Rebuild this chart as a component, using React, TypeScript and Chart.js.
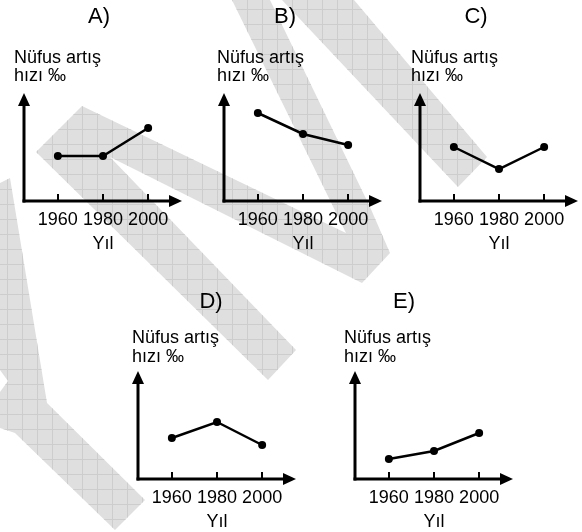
import React, { useEffect, useRef } from "react";
import { Chart, registerables } from "chart.js";

Chart.register(...registerables);

// ---- data ----
const YEARS = [1960, 1980, 2000];
const TICK_LABELS = ["1960", "1980", "2000"];
const PANEL_LABELS = ["A)", "B)", "C)", "D)", "E)"];
const SERIES_A = [45, 45, 73];
const SERIES_B = [88, 67, 56];
const SERIES_C = [54, 32, 54];
const SERIES_D = [41, 57, 34];
const SERIES_E = [20, 28, 46];
const Y_TITLE_LINES = ["Nüfus artış", "hızı ‰"];
const X_TITLE = "Yıl";

// ---- scale ranges ----
const X_MIN = 1945;
const X_MAX = 2015;
const Y_MIN = 0;
const Y_MAX = 108;

// ---- layout (page pixel positions) ----
const W = 582;
const H = 532;
const AXIS_W = 158;
const AXIS_H = 108;
const FONT = '"Liberation Sans", Arial, sans-serif';

const PANELS = [
  { label: PANEL_LABELS[0], data: SERIES_A, x0: 24, y0: 201, titleX: 99, titleY: 23, textX: 14, l1: 63, l2: 81 },
  { label: PANEL_LABELS[1], data: SERIES_B, x0: 224, y0: 201, titleX: 285, titleY: 23, textX: 217, l1: 63, l2: 81 },
  { label: PANEL_LABELS[2], data: SERIES_C, x0: 420, y0: 201, titleX: 476, titleY: 23, textX: 411, l1: 63, l2: 81 },
  { label: PANEL_LABELS[3], data: SERIES_D, x0: 138, y0: 479, titleX: 211, titleY: 308, textX: 132, l1: 343, l2: 362 },
  { label: PANEL_LABELS[4], data: SERIES_E, x0: 355, y0: 479, titleX: 404, titleY: 308, textX: 344, l1: 343, l2: 362 },
];

// ---- background watermark shapes (decoration) ----
const WATERMARK = [
  [[82, 106], [346, 233], [232, 0], [270, 0], [370, 207], [390, 253], [362, 283], [110, 157], [296, 350], [268, 380], [36, 152]],
  [[282, 0], [354, 0], [487, 157], [458, 187]],
  [[0, 183], [10, 178], [47, 403], [145, 500], [115, 530], [15, 433], [0, 428], [0, 392], [8, 381], [0, 370]],
];

const watermarkPlugin = {
  id: "watermark",
  beforeDraw(chart: any) {
    const ctx = chart.ctx;
    ctx.save();
    ctx.fillStyle = "#ffffff";
    ctx.fillRect(0, 0, W, H);
    ctx.beginPath();
    for (const poly of WATERMARK) {
      poly.forEach(([x, y], i) => (i === 0 ? ctx.moveTo(x, y) : ctx.lineTo(x, y)));
      ctx.closePath();
    }
    ctx.fillStyle = "#dfdfdf";
    ctx.fill();
    ctx.clip();
    ctx.strokeStyle = "#cdcdcd";
    ctx.lineWidth = 1;
    ctx.beginPath();
    for (let x = 7; x < W; x += 15) {
      ctx.moveTo(x + 0.5, 0);
      ctx.lineTo(x + 0.5, H);
    }
    for (let y = 9; y < H; y += 15) {
      ctx.moveTo(0, y + 0.5);
      ctx.lineTo(W, y + 0.5);
    }
    ctx.stroke();
    ctx.restore();
  },
};

const axesPlugin = {
  id: "axesDecor",
  beforeDatasetsDraw(chart: any) {
    const ctx = chart.ctx;
    const a = chart.chartArea;
    const xs = chart.scales.x;
    ctx.save();
    ctx.strokeStyle = "#000";
    ctx.fillStyle = "#000";
    ctx.lineWidth = 3;
    ctx.lineCap = "butt";
    // y axis
    ctx.beginPath();
    ctx.moveTo(a.left, a.bottom + 1.5);
    ctx.lineTo(a.left, a.top + 12);
    ctx.stroke();
    ctx.beginPath();
    ctx.moveTo(a.left, a.top);
    ctx.lineTo(a.left - 6, a.top + 13);
    ctx.lineTo(a.left + 6, a.top + 13);
    ctx.closePath();
    ctx.fill();
    // x axis
    ctx.beginPath();
    ctx.moveTo(a.left - 1.5, a.bottom);
    ctx.lineTo(a.right - 12, a.bottom);
    ctx.stroke();
    ctx.beginPath();
    ctx.moveTo(a.right, a.bottom);
    ctx.lineTo(a.right - 13, a.bottom - 6);
    ctx.lineTo(a.right - 13, a.bottom + 6);
    ctx.closePath();
    ctx.fill();
    // tick marks
    ctx.lineWidth = 2;
    for (const yr of YEARS) {
      const px = Math.round(xs.getPixelForValue(yr));
      ctx.beginPath();
      ctx.moveTo(px, a.bottom);
      ctx.lineTo(px, a.bottom - 7);
      ctx.stroke();
    }
    ctx.restore();
  },
  afterDraw(chart: any) {
    const ctx = chart.ctx;
    const a = chart.chartArea;
    const xs = chart.scales.x;
    const p = chart.options.plugins.axesDecor;
    ctx.save();
    ctx.fillStyle = "#000";
    ctx.textBaseline = "alphabetic";
    // tick labels
    ctx.font = `18px ${FONT}`;
    ctx.textAlign = "center";
    YEARS.forEach((yr, i) => {
      ctx.fillText(TICK_LABELS[i], xs.getPixelForValue(yr), a.bottom + 24);
    });
    // x title
    ctx.fillText(X_TITLE, xs.getPixelForValue(YEARS[1]), a.bottom + 48);
    // y title
    ctx.textAlign = "left";
    ctx.fillText(Y_TITLE_LINES[0], p.textX, p.l1);
    ctx.fillText(Y_TITLE_LINES[1], p.textX, p.l2);
    // panel label
    ctx.font = `22px ${FONT}`;
    ctx.textAlign = "center";
    ctx.fillText(p.label, p.titleX, p.titleY);
    ctx.restore();
  },
};

function Panel({ cfg }: { cfg: any }) {
  const ref = useRef<HTMLCanvasElement>(null);
  useEffect(() => {
    if (!ref.current) return;
    const chart = new Chart(ref.current, {
      type: "line",
      data: {
        datasets: [
          {
            data: YEARS.map((yr, i) => ({ x: yr, y: cfg.data[i] })),
            borderColor: "#000",
            borderWidth: 2.5,
            pointRadius: 4,
            pointBackgroundColor: "#000",
            pointBorderColor: "#000",
            pointBorderWidth: 0,
            tension: 0,
            clip: false,
          } as any,
        ],
      },
      options: {
        animation: false,
        responsive: false,
        events: [],
        layout: {
          padding: {
            left: cfg.x0,
            right: W - cfg.x0 - AXIS_W,
            top: cfg.y0 - AXIS_H,
            bottom: H - cfg.y0,
          },
        },
        scales: {
          x: { type: "linear", min: X_MIN, max: X_MAX, display: false },
          y: { type: "linear", min: Y_MIN, max: Y_MAX, display: false },
        },
        plugins: {
          legend: { display: false },
          tooltip: { enabled: false },
          axesDecor: cfg,
        } as any,
      },
      plugins: [axesPlugin],
    });
    return () => chart.destroy();
  }, [cfg]);
  return (
    <canvas
      ref={ref}
      width={W}
      height={H}
      style={{ position: "absolute", left: 0, top: 0, width: W, height: H }}
    />
  );
}

function Background() {
  const ref = useRef<HTMLCanvasElement>(null);
  useEffect(() => {
    if (!ref.current) return;
    const chart = new Chart(ref.current, {
      type: "line",
      data: { datasets: [] },
      options: {
        animation: false,
        responsive: false,
        events: [],
        scales: { x: { display: false }, y: { display: false } },
        plugins: { legend: { display: false }, tooltip: { enabled: false } },
      },
      plugins: [watermarkPlugin],
    });
    return () => chart.destroy();
  }, []);
  return (
    <canvas
      ref={ref}
      width={W}
      height={H}
      style={{ position: "absolute", left: 0, top: 0, width: W, height: H }}
    />
  );
}

export default function App() {
  return (
    <div style={{ position: "absolute", left: 0, top: 0, width: W, height: H, background: "#fff", overflow: "hidden" }}>
      <Background />
      {PANELS.map((p) => (
        <Panel key={p.label} cfg={p} />
      ))}
    </div>
  );
}
